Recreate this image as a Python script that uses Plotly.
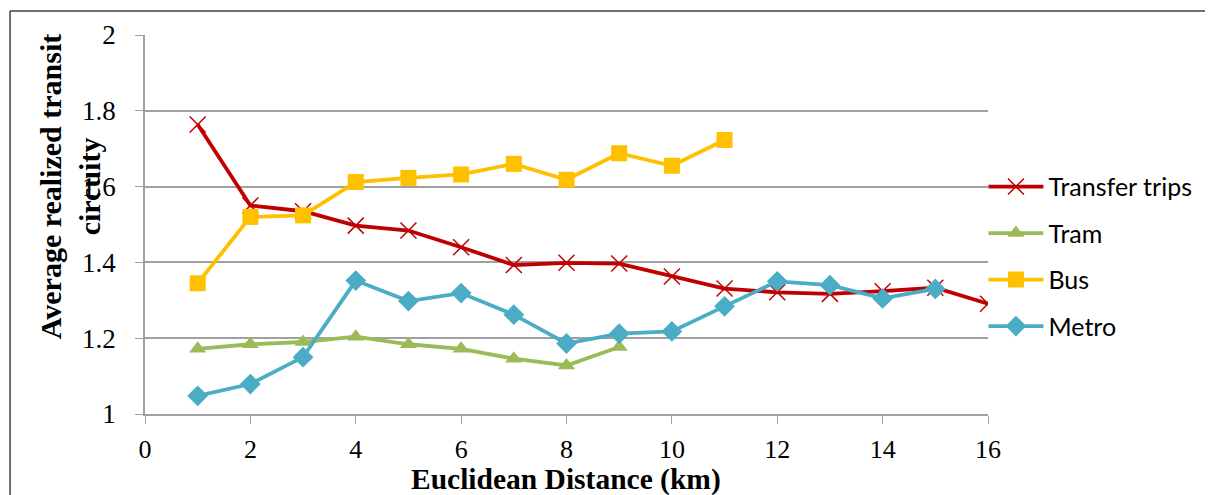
import plotly.graph_objects as go

distance = list(range(1, 17))
transfer = [1.764, 1.550, 1.535, 1.497, 1.484, 1.440, 1.393, 1.399, 1.397, 1.363, 1.331, 1.321, 1.317, 1.324, 1.333, 1.291]
tram = [1.172, 1.184, 1.190, 1.204, 1.184, 1.172, 1.146, 1.128, 1.177]
bus = [1.345, 1.520, 1.524, 1.612, 1.623, 1.632, 1.660, 1.618, 1.688, 1.655, 1.723]
metro = [1.048, 1.079, 1.150, 1.352, 1.298, 1.319, 1.262, 1.186, 1.212, 1.218, 1.284, 1.350, 1.340, 1.305, 1.330]

x_ticks = list(range(0, 17, 2))
y_ticks = [1, 1.2, 1.4, 1.6, 1.8, 2]
y_tick_text = ["1", "1.2", "1.4", "1.6", "1.8", "2"]

fig = go.Figure()
fig.add_trace(go.Scatter(x=distance[:len(transfer)], y=transfer, name="Transfer trips", mode="lines+markers",
                         legendgroup="a",
                         line=dict(color="#C00000", width=3.8),
                         marker=dict(symbol="x-thin", size=16, color="#C00000", line=dict(color="#C00000", width=1.5))))
fig.add_trace(go.Scatter(x=distance[:len(tram)], y=tram, name="Tram", mode="lines+markers",
                         legendgroup="b",
                         line=dict(color="#9BBB59", width=3.8),
                         marker=dict(symbol="triangle-up", size=15, color="#9BBB59")))
fig.add_trace(go.Scatter(x=distance[:len(bus)], y=bus, name="Bus", mode="lines+markers",
                         legendgroup="c",
                         line=dict(color="#FFC000", width=3.8),
                         marker=dict(symbol="square", size=16, color="#FFC000")))
fig.add_trace(go.Scatter(x=distance[:len(metro)], y=metro, name="Metro", mode="lines+markers",
                         legendgroup="d",
                         line=dict(color="#4BACC6", width=3.8),
                         marker=dict(symbol="diamond", size=16, color="#4BACC6")))

fig.update_layout(
    width=1213, height=495,
    margin=dict(l=137, r=233, t=25, b=89),
    paper_bgcolor="white", plot_bgcolor="white",
    font=dict(family="Liberation Serif", size=26, color="black"),
    xaxis=dict(range=[0, 16], tickvals=x_ticks, showgrid=False, showline=True, linecolor="#A0A0A0", linewidth=1.5,
               ticks="outside", ticklen=8, tickcolor="#A0A0A0", zeroline=False, ticklabelstandoff=3,
               tickfont=dict(size=26)),
    yaxis=dict(range=[1, 2], tickvals=y_ticks, ticktext=y_tick_text, showgrid=True, gridcolor="#A0A0A0", gridwidth=1.5,
               showline=True, linecolor="#A0A0A0", linewidth=1.5, ticks="outside", ticklen=8, tickcolor="#A0A0A0",
               zeroline=False, ticklabelstandoff=14, tickfont=dict(size=27)),
    legend=dict(x=0.9946, y=0.416, xanchor="left", yanchor="middle", font=dict(family="Lato", size=25),
                itemwidth=55, tracegroupgap=11, bgcolor="rgba(0,0,0,0)"),
    showlegend=True,
)

fig.add_annotation(text="<b>Average realized transit<br>circuity</b>", textangle=-90, xref="paper", yref="paper",
                   x=-0.089, y=0.601, xanchor="center", yanchor="middle", showarrow=False,
                   font=dict(family="Liberation Serif", size=30, color="black"))
fig.add_annotation(text="<b>Euclidean Distance (km)</b>", xref="paper", yref="paper",
                   x=0.4994, y=-0.173, xanchor="center", yanchor="middle", showarrow=False,
                   font=dict(family="Liberation Serif", size=29.5, color="black"))

fig.add_shape(type="line", xref="paper", yref="paper", x0=-0.1601, x1=1.3, y0=1.063, y1=1.063,
              line=dict(color="#404040", width=1.5))
fig.add_shape(type="line", xref="paper", yref="paper", x0=-0.1601, x1=-0.1601, y0=1.063, y1=-0.3,
              line=dict(color="#404040", width=1.5))

fig.write_html("out.html")
